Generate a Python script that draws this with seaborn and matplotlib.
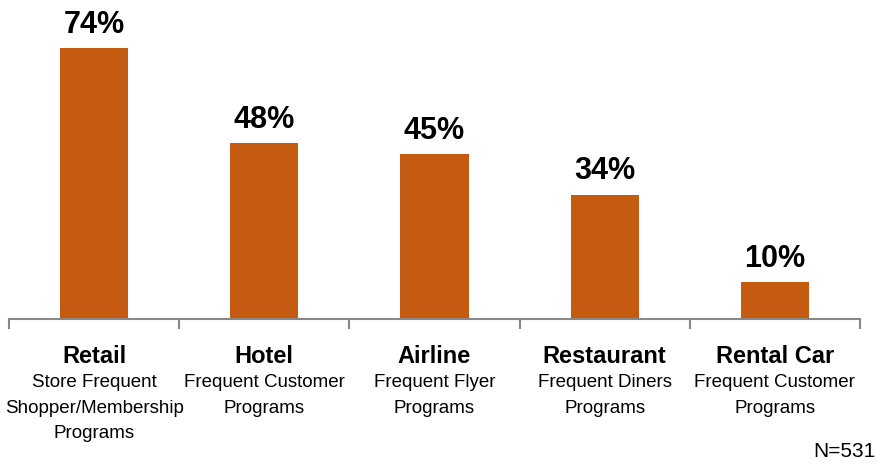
import matplotlib
matplotlib.use("Agg")
import matplotlib.pyplot as plt
import seaborn as sns
import pandas as pd
from matplotlib.transforms import blended_transform_factory

categories = ["Retail", "Hotel", "Airline", "Restaurant", "Rental Car"]
subtitles = ["Store Frequent\nShopper/Membership\nPrograms",
             "Frequent Customer\nPrograms",
             "Frequent Flyer\nPrograms",
             "Frequent Diners\nPrograms",
             "Frequent Customer\nPrograms"]
values = [74, 48, 45, 34, 10]
note = "N=531"

sns.set_theme(style="white")
fam = ["Liberation Sans Narrow", "Liberation Sans", "DejaVu Sans"]
plt.rcParams["font.family"] = fam

df = pd.DataFrame({"cat": categories, "val": values})

fig = plt.figure(figsize=(8.79, 4.65), dpi=100)
ax = fig.add_axes([9 / 879, 146 / 465, (860 - 9) / 879, 319 / 465])
sns.barplot(data=df, x="cat", y="val", color="#C55A11", width=0.4,
            saturation=1, ax=ax, edgecolor="none")
ax.set_xlim(-0.5, len(categories) - 0.5)
ax.set_ylim(0, 87.2)
for s in ["top", "right", "left"]:
    ax.spines[s].set_visible(False)
ax.spines["bottom"].set_color("#888888")
ax.spines["bottom"].set_linewidth(1.5)
ax.set_yticks([])
ax.set_xlabel("")
ax.set_ylabel("")
ax.set_xticks([i - 0.5 for i in range(len(categories) + 1)])
ax.set_xticklabels([])
ax.tick_params(axis="x", direction="out", length=7, width=1.5, color="#888888",
               bottom=True)

for i, v in enumerate(values):
    ax.text(i, v + 2.3, f"{v}%", ha="center", va="bottom", fontsize=22,
            fontweight="bold", color="black", family=fam)

tr = blended_transform_factory(ax.transData, fig.transFigure)
for i, (c, s) in enumerate(zip(categories, subtitles)):
    ax.text(i, 1 - 356 / 465, c, transform=tr, ha="center", va="center",
            fontsize=17, fontweight="bold", color="black", family=fam)
    ax.text(i, 1 - 374 / 465, s, transform=tr, ha="center", va="top",
            fontsize=13.5, color="black", linespacing=1.66, family=fam)

fig.text(876 / 879, 1 - 451 / 465, note, ha="right", va="center",
         fontsize=15, color="black", family=fam)

fig.savefig("out.png", dpi=100)
